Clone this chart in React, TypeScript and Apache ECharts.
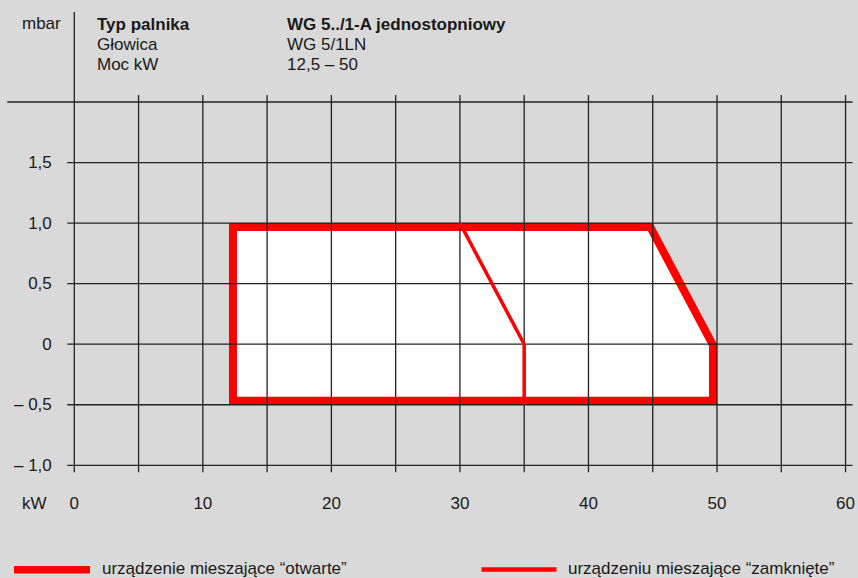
import React, { useEffect, useRef } from 'react';
import * as echarts from 'echarts';

// ---- data ----
const xMin = 0;
const xMax = 60;
const yMin = -1;
const yMax = 2;
const xGridValues = [0, 5, 10, 15, 20, 25, 30, 35, 40, 45, 50, 55, 60];
const yGridValues = [-1, -0.5, 0, 0.5, 1, 1.5, 2];
const xTickValues = [0, 10, 20, 30, 40, 50, 60];
const xTickLabels = ['0', '10', '20', '30', '40', '50', '60'];
const yTickValues = [-1, -0.5, 0, 0.5, 1, 1.5, 2];
const yTickLabels = ['– 1,0', '– 0,5', '0', '0,5', '1,0', '1,5', ''];
// open mixing device working field (kW, mbar)
const openRangeX = [12.5, 45, 50, 50, 12.5];
const openRangeY = [1.0, 1.0, 0, -0.5, -0.5];
// closed mixing device limit (kW, mbar)
const closedRangeX = [30, 35, 35];
const closedRangeY = [1.0, 0, -0.5];
const headerLabels = ['Typ palnika', 'Głowica', 'Moc kW'];
const headerValues = ['WG 5../1-A jednostopniowy', 'WG 5/1LN', '12,5 – 50'];
const legendNames = ['urządzenie mieszające “otwarte”', 'urządzeniu mieszające “zamknięte”'];
const yUnit = 'mbar';
const xUnit = 'kW';

// ---- style ----
const FONT = "'Liberation Sans', Arial, Helvetica, sans-serif";
const TEXT = '#1a1a1a';
const GRID_COLOR = '#222222';
const GRID_W = 1.3;
const EXT = 7;
const RED = '#ff0000';
const THICK = 8;
const THIN = 3.5;
const EDGE_OFFSETS = [4, 4, 4, 4, -2];

function insetPolygon(pts: number[][], offs: number[]) {
  const n = pts.length;
  const lines: { p: number[]; d: number[] }[] = [];
  for (let i = 0; i < n; i++) {
    const a = pts[i];
    const b = pts[(i + 1) % n];
    const dx = b[0] - a[0];
    const dy = b[1] - a[1];
    const len = Math.hypot(dx, dy) || 1;
    const ux = dx / len;
    const uy = dy / len;
    const nx = -uy;
    const ny = ux;
    const o = offs[i];
    lines.push({ p: [a[0] + nx * o, a[1] + ny * o], d: [ux, uy] });
  }
  const out: number[][] = [];
  for (let i = 0; i < n; i++) {
    const L1 = lines[(i - 1 + n) % n];
    const L2 = lines[i];
    const cross = L1.d[0] * L2.d[1] - L1.d[1] * L2.d[0];
    if (Math.abs(cross) < 1e-9) {
      out.push(L2.p);
      continue;
    }
    const t = ((L2.p[0] - L1.p[0]) * L2.d[1] - (L2.p[1] - L1.p[1]) * L2.d[0]) / cross;
    out.push([L1.p[0] + t * L1.d[0], L1.p[1] + t * L1.d[1]]);
  }
  return out;
}

export default function App() {
  const ref = useRef<HTMLDivElement>(null);
  useEffect(() => {
    document.body.style.margin = '0';
    if (!ref.current) return;
    const chart = echarts.init(ref.current, null, { renderer: 'svg' });

    const textStyle = (bold = false) => ({
      fontFamily: FONT,
      fontSize: 17,
      fontWeight: bold ? 'bold' : 'normal',
      fill: TEXT,
      textVerticalAlign: 'middle',
      verticalAlign: 'middle',
    });

    const headerRowsY = [24, 44.6, 64.8];
    const graphics: any[] = [
      { type: 'text', left: 22, top: 23.5 - 9, style: { ...textStyle(), text: yUnit } },
    ];
    headerLabels.forEach((t, i) => {
      graphics.push({ type: 'text', x: 97, y: headerRowsY[i], style: { ...textStyle(i === 0), text: t } });
      graphics.push({ type: 'text', x: 287, y: headerRowsY[i], style: { ...textStyle(i === 0), text: headerValues[i] } });
    });
    graphics[0] = { type: 'text', x: 22, y: 23.5, style: { ...textStyle(), text: yUnit } };
    graphics.push({ type: 'text', x: 22, y: 503.4, style: { ...textStyle(), text: xUnit } });
    // legend
    graphics.push({ type: 'rect', shape: { x: 14, y: 566, width: 76, height: 7.5 }, style: { fill: RED } });
    graphics.push({ type: 'text', x: 102, y: 568, style: { ...textStyle(), text: legendNames[0] } });
    graphics.push({ type: 'rect', shape: { x: 481.5, y: 567.3, width: 75, height: 4.4 }, style: { fill: RED } });
    graphics.push({ type: 'text', x: 568, y: 568, style: { ...textStyle(), text: legendNames[1] } });

    const lookup = (vals: number[], labels: string[]) => (v: number) => {
      const i = vals.findIndex((t) => Math.abs(t - v) < 1e-9);
      return i >= 0 ? labels[i] : '';
    };

    const option: any = {
      animation: false,
      backgroundColor: '#d9d9d9',
      grid: { left: 74.3, right: 12, top: 102, bottom: 112.7, containLabel: false },
      xAxis: {
        type: 'value',
        min: xMin,
        max: xMax,
        interval: 10,
        axisLine: { show: false },
        axisTick: { show: false },
        splitLine: { show: false },
        axisLabel: {
          formatter: lookup(xTickValues, xTickLabels),
          fontFamily: FONT,
          fontSize: 17,
          color: TEXT,
          margin: 38,
          verticalAlign: 'middle',
        },
      },
      yAxis: {
        type: 'value',
        min: yMin,
        max: yMax,
        interval: 0.5,
        axisLine: { show: false },
        axisTick: { show: false },
        splitLine: { show: false },
        axisLabel: {
          formatter: lookup(yTickValues, yTickLabels),
          fontFamily: FONT,
          fontSize: 17,
          color: TEXT,
          margin: 22.5,
        },
      },
      graphic: graphics,
      series: [
        {
          name: legendNames[0],
          type: 'custom',
          z: 1,
          silent: true,
          data: openRangeX.map((x, i) => [x, openRangeY[i]]),
          renderItem: (params: any, api: any) => {
            if (params.dataIndex !== 0) return null;
            const pts = openRangeX.map((x, i) => api.coord([x, openRangeY[i]]));
            const inset = insetPolygon(pts, EDGE_OFFSETS);
            return {
              type: 'group',
              children: [
                { type: 'polygon', shape: { points: pts }, style: { fill: '#ffffff' } },
                {
                  type: 'polygon',
                  shape: { points: inset },
                  style: { fill: 'none', stroke: RED, lineWidth: THICK, lineJoin: 'miter' },
                },
              ],
            };
          },
        },
        {
          name: 'grid',
          type: 'custom',
          z: 3,
          silent: true,
          data: [[xMin, yMin]],
          renderItem: (params: any, api: any) => {
            if (params.dataIndex !== 0) return null;
            const top = api.coord([xMin, yMax])[1];
            const bottom = api.coord([xMin, yMin])[1];
            const left = api.coord([xMin, yMin])[0];
            const right = api.coord([xMax, yMin])[0];
            const children: any[] = [];
            xGridValues.forEach((v) => {
              const x = api.coord([v, yMin])[0];
              const y1 = v === xMin ? top - 90 : top - EXT;
              children.push({
                type: 'line',
                shape: { x1: x, y1, x2: x, y2: bottom + EXT },
                style: { stroke: GRID_COLOR, lineWidth: GRID_W },
              });
            });
            yGridValues.forEach((v) => {
              const y = api.coord([xMin, v])[1];
              const x1 = v === yMax ? left - 67 : left - EXT;
              children.push({
                type: 'line',
                shape: { x1, y1: y, x2: right + EXT, y2: y },
                style: { stroke: GRID_COLOR, lineWidth: GRID_W },
              });
            });
            return { type: 'group', children };
          },
        },
        {
          name: legendNames[1],
          type: 'line',
          z: 4,
          silent: true,
          symbol: 'none',
          data: closedRangeX.map((x, i) => [x, closedRangeY[i]]),
          lineStyle: { color: RED, width: THIN },
        },
      ],
    };
    chart.setOption(option);
    return () => chart.dispose();
  }, []);
  return <div ref={ref} style={{ width: 858, height: 578 }} />;
}
